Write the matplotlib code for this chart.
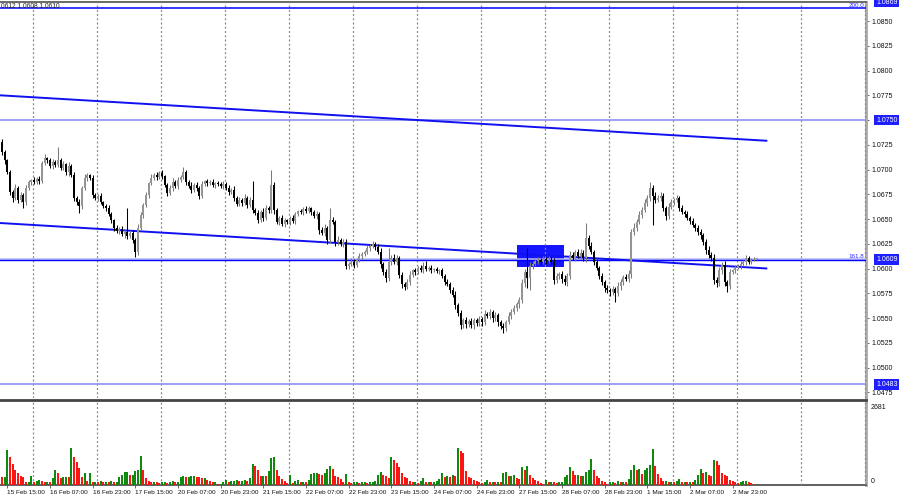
import numpy as np
import matplotlib
matplotlib.use('Agg')
import matplotlib.pyplot as plt
from matplotlib.transforms import blended_transform_factory

plt.rcParams['font.family'] = ['Liberation Sans Narrow', 'Liberation Sans', 'DejaVu Sans']

# ---------------- data (EURUSD H1) ----------------
first_open = 1.0730
close = [
    1.0728, 1.0718, 1.0710, 1.0697, 1.0677, 1.0671, 1.0681, 1.0669, 1.0674, 1.0667, 1.0681, 1.0687, 1.0689, 1.0687, 1.0690,
    1.0688, 1.0707, 1.0712, 1.0710, 1.0704, 1.0708, 1.0705, 1.0710, 1.0702, 1.0706, 1.0697, 1.0704, 1.0694, 1.0671, 1.0667,
    1.0663, 1.0681, 1.0691, 1.0694, 1.0691, 1.0674, 1.0671, 1.0673, 1.0667, 1.0663, 1.0661, 1.0655, 1.0649, 1.0641, 1.0638,
    1.0640, 1.0635, 1.0637, 1.0633, 1.0636, 1.0629, 1.0617, 1.0641, 1.0654, 1.0664, 1.0674, 1.0686, 1.0691, 1.0694, 1.0692,
    1.0696, 1.0693, 1.0684, 1.0676, 1.0681, 1.0687, 1.0683, 1.0689, 1.0692, 1.0697, 1.0687, 1.0683, 1.0679, 1.0684, 1.0681,
    1.0673, 1.0685, 1.0688, 1.0686, 1.0687, 1.0684, 1.0686, 1.0685, 1.0683, 1.0685, 1.0681, 1.0677, 1.0679, 1.0671, 1.0665,
    1.0669, 1.0666, 1.0671, 1.0664, 1.0669, 1.0659, 1.0656, 1.0649, 1.0657, 1.0651, 1.0661, 1.0659, 1.0684, 1.0659, 1.0647,
    1.0651, 1.0645, 1.0649, 1.0647, 1.0651, 1.0648, 1.0655, 1.0658, 1.0657, 1.0660, 1.0658, 1.0661, 1.0657, 1.0653, 1.0655,
    1.0639, 1.0636, 1.0641, 1.0629, 1.0649, 1.0647, 1.0627, 1.0629, 1.0625, 1.0627, 1.0603, 1.0605, 1.0607, 1.0604, 1.0609,
    1.0613, 1.0615, 1.0617, 1.0621, 1.0623, 1.0625, 1.0622, 1.0617, 1.0605, 1.0596, 1.0590, 1.0607, 1.0611, 1.0607, 1.0611,
    1.0593, 1.0584, 1.0581, 1.0586, 1.0593, 1.0598, 1.0596, 1.0601, 1.0598, 1.0603, 1.0599, 1.0601, 1.0598, 1.0599, 1.0597,
    1.0598, 1.0592, 1.0586, 1.0584, 1.0578, 1.0573, 1.0563, 1.0555, 1.0543, 1.0548, 1.0544, 1.0547, 1.0543, 1.0548, 1.0545,
    1.0549, 1.0546, 1.0554, 1.0552, 1.0556, 1.0550, 1.0553, 1.0546, 1.0542, 1.0540, 1.0546, 1.0552, 1.0556, 1.0560, 1.0564,
    1.0568, 1.0585, 1.0596, 1.0590, 1.0603, 1.0605, 1.0608, 1.0609, 1.0607, 1.0610, 1.0608, 1.0609, 1.0607, 1.0588, 1.0592,
    1.0594, 1.0589, 1.0586, 1.0592, 1.0614, 1.0611, 1.0617, 1.0613, 1.0616, 1.0611, 1.0631, 1.0623, 1.0617, 1.0607, 1.0601,
    1.0592, 1.0586, 1.0580, 1.0578, 1.0576, 1.0579, 1.0575, 1.0582, 1.0586, 1.0591, 1.0589, 1.0594, 1.0637, 1.0641, 1.0647,
    1.0654, 1.0659, 1.0666, 1.0671, 1.0681, 1.0673, 1.0669, 1.0671, 1.0673, 1.0661, 1.0653, 1.0662, 1.0667, 1.0669, 1.0671,
    1.0661, 1.0657, 1.0655, 1.0651, 1.0648, 1.0644, 1.0641, 1.0637, 1.0634, 1.0627, 1.0619, 1.0614, 1.0611, 1.0588, 1.0585,
    1.0598, 1.0604, 1.0586, 1.0582, 1.0596, 1.0598, 1.0601, 1.0603, 1.0605, 1.0607, 1.0611, 1.0607, 1.0609, 1.0610, 1.0610,
]
wick_up_pips = [
    2, 3, 2, 1, 3, 2, 4, 2, 3, 2, 3, 2, 1, 3, 2,
    3, 2, 4, 1, 2, 3, 2, 13, 2, 3, 1, 4, 2, 3, 2,
    3, 2, 4, 2, 1, 3, 2, 2, 3, 1, 2, 3, 2, 1, 3,
    2, 3, 2, 24, 2, 3, 2, 4, 3, 2, 3, 1, 4, 2, 3,
    2, 3, 1, 2, 3, 4, 2, 3, 2, 6, 3, 2, 4, 2, 3,
    2, 3, 1, 2, 2, 3, 1, 2, 2, 3, 2, 3, 2, 4, 2,
    3, 2, 4, 2, 3, 19, 2, 3, 2, 4, 3, 2, 15, 3, 2,
    2, 3, 2, 1, 2, 3, 2, 1, 2, 2, 3, 2, 1, 2, 3,
    2, 3, 4, 2, 12, 3, 2, 4, 2, 3, 3, 2, 4, 3, 2,
    3, 2, 2, 3, 2, 3, 2, 3, 4, 2, 3, 14, 3, 4, 3,
    2, 3, 2, 3, 4, 2, 3, 2, 3, 4, 5, 2, 3, 2, 3,
    2, 3, 2, 3, 2, 3, 4, 2, 3, 2, 3, 2, 3, 2, 2,
    3, 2, 4, 2, 3, 2, 3, 2, 2, 3, 2, 4, 3, 3, 2,
    3, 4, 3, 25, 4, 3, 2, 3, 2, 3, 2, 4, 3, 4, 3,
    2, 3, 4, 3, 4, 3, 2, 3, 4, 3, 15, 3, 4, 2, 3,
    2, 3, 2, 3, 2, 3, 2, 4, 3, 2, 3, 4, 3, 5, 3,
    4, 3, 4, 3, 6, 3, 4, 3, 4, 3, 2, 4, 3, 2, 3,
    2, 3, 2, 3, 2, 3, 2, 3, 3, 2, 3, 4, 3, 4, 3,
    4, 3, 4, 2, 3, 2, 3, 2, 3, 2, 3, 2, 2, 2, 1,
]
wick_dn_pips = [
    2, 3, 4, 2, 3, 4, 2, 3, 2, 6, 3, 2, 3, 2, 2,
    3, 2, 2, 3, 2, 3, 2, 2, 3, 2, 3, 4, 2, 3, 3,
    7, 3, 2, 3, 2, 3, 2, 3, 2, 2, 3, 2, 3, 3, 2,
    3, 2, 4, 3, 2, 3, 5, 3, 2, 3, 2, 3, 2, 2, 3,
    2, 3, 2, 3, 2, 3, 2, 3, 2, 2, 3, 2, 3, 2, 3,
    3, 2, 2, 3, 2, 2, 3, 2, 2, 3, 2, 3, 2, 3, 2,
    2, 3, 2, 3, 2, 3, 2, 3, 2, 3, 2, 3, 3, 4, 2,
    3, 2, 3, 2, 3, 2, 3, 2, 2, 3, 2, 2, 3, 2, 3,
    4, 2, 3, 4, 3, 2, 4, 3, 2, 3, 4, 3, 2, 3, 2,
    2, 3, 2, 2, 3, 2, 3, 2, 4, 3, 4, 3, 3, 2, 3,
    3, 4, 3, 2, 3, 2, 3, 2, 2, 3, 2, 2, 3, 2, 2,
    3, 2, 3, 2, 3, 2, 4, 3, 4, 3, 4, 3, 3, 4, 3,
    3, 4, 3, 2, 3, 4, 3, 4, 3, 5, 3, 2, 3, 2, 3,
    4, 3, 4, 10, 12, 3, 2, 3, 2, 2, 3, 2, 2, 4, 3,
    3, 4, 3, 4, 3, 2, 3, 2, 3, 3, 4, 3, 2, 3, 3,
    3, 3, 4, 3, 4, 3, 9, 3, 4, 3, 2, 3, 4, 3, 3,
    2, 3, 2, 3, 3, 29, 3, 2, 3, 3, 4, 3, 2, 3, 2,
    3, 2, 3, 2, 3, 2, 3, 3, 4, 3, 4, 3, 3, 4, 4,
    3, 4, 4, 6, 3, 2, 3, 2, 3, 2, 3, 2, 2, 1, 1,
]
volume = [
    396, 264, 270, 1155, 924, 693, 495, 396, 297, 264, 99, 105, 297, 99, 132,
    165, 132, 99, 102, 99, 231, 495, 396, 231, 264, 270, 262, 1221, 924, 759,
    561, 264, 396, 132, 396, 99, 102, 99, 132, 99, 105, 99, 132, 99, 102,
    264, 330, 429, 432, 330, 333, 462, 495, 957, 495, 231, 132, 99, 102, 99,
    66, 99, 102, 66, 99, 132, 99, 102, 264, 297, 264, 266, 297, 298, 264,
    262, 231, 233, 165, 132, 99, 102, 33, 35, 99, 165, 99, 132, 133, 165,
    132, 134, 165, 132, 231, 693, 627, 495, 297, 299, 297, 462, 891, 924, 495,
    297, 198, 132, 66, 330, 66, 132, 165, 99, 101, 99, 165, 363, 396, 398,
    363, 330, 396, 528, 627, 528, 297, 264, 198, 99, 363, 99, 66, 99, 101,
    66, 99, 102, 66, 99, 101, 132, 330, 429, 330, 297, 231, 924, 825, 726,
    594, 396, 264, 231, 132, 99, 101, 66, 132, 231, 99, 102, 99, 101, 132,
    198, 396, 264, 297, 264, 330, 297, 1221, 1122, 1056, 462, 264, 231, 165, 132,
    99, 66, 99, 165, 99, 102, 99, 101, 99, 396, 429, 297, 299, 330, 231,
    198, 594, 495, 627, 330, 231, 165, 132, 66, 33, 165, 99, 101, 99, 66,
    99, 102, 264, 330, 594, 462, 330, 332, 297, 299, 429, 495, 858, 495, 297,
    231, 132, 99, 33, 99, 101, 66, 132, 99, 101, 99, 198, 495, 660, 495,
    528, 363, 495, 561, 660, 1188, 627, 363, 231, 132, 134, 99, 101, 99, 132,
    198, 99, 101, 99, 102, 99, 165, 330, 528, 396, 429, 330, 297, 825, 792,
    660, 396, 330, 297, 165, 132, 99, 66, 99, 132, 134, 99, 66, 33, 35,
]
volume_axis_max = 2681

x_labels = ['15 Feb 15:00', '16 Feb 07:00', '16 Feb 23:00', '17 Feb 15:00', '20 Feb 07:00',
            '20 Feb 23:00', '21 Feb 15:00', '22 Feb 07:00', '22 Feb 23:00', '23 Feb 15:00',
            '24 Feb 07:00', '24 Feb 23:00', '27 Feb 15:00', '28 Feb 07:00', '28 Feb 23:00',
            '1 Mar 15:00', '2 Mar 07:00', '2 Mar 23:00']
x_label_first_bar = 3
x_label_step = 16

price_ticks = [1.0850, 1.0825, 1.0800, 1.0775, 1.0750, 1.0725, 1.0700, 1.0675, 1.0650,
               1.0625, 1.0600, 1.0575, 1.0550, 1.0525, 1.0500, 1.0475]

# horizontal levels and boxed price labels
level_fib200 = 1.0863
level_upper = 1.0750
level_fib161 = 1.0609
level_lower = 1.0483
boxed_prices = ['1.0869', '1.0750', '1.0609', '1.0483']

# channel trend lines (bar index, price)
chan_bars = [0, 288]
chan_upper = [1.0775, 1.0729]
chan_lower = [1.0646, 1.0600]

# blue zone rectangle
zone_bars = [194, 211.7]
zone_prices = [1.0602, 1.0624]

header_text = '0612 1.0608 1.0610'

# ---------------- figure ----------------
W, H = 900, 500
fig = plt.figure(figsize=(9, 5), dpi=100)
fig.patch.set_facecolor('white')

ax = fig.add_axes([0, 1 - 398 / H, 866 / W, 396 / H])
axv = fig.add_axes([0, 15 / H, 866 / W, 85 / H], sharex=ax)

n = len(close)
x = np.arange(n)
c = np.array(close)
o = np.concatenate([[first_open], c[:-1]])
hi = np.maximum(o, c) + np.array(wick_up_pips) * 1e-4
lo = np.minimum(o, c) - np.array(wick_dn_pips) * 1e-4
bull = c >= o

bull_col = '#959595'
bear_col = '#000000'
cols = np.where(bull, bull_col, bear_col)
wick_cols = np.where(bull, '#7a7a7a', '#000000')

# grid (vertical dotted)
grid_pos = 12.64 + 24 * np.arange(14)
for a in (ax, axv):
    for g in grid_pos:
        a.axvline(g, color='#8a8a8a', lw=0.9, ls=(0, (1.6, 1.8)), zorder=3)

# zone
ax.add_patch(plt.Rectangle((zone_bars[0], zone_prices[0]), zone_bars[1] - zone_bars[0],
                           zone_prices[1] - zone_prices[0], facecolor='#1515ff',
                           edgecolor='none', zorder=2))

# horizontal levels
ax.axhline(level_fib200, color='#0000ff', lw=1.1, zorder=4)
ax.axhline(level_upper, color='#8f8ff5', lw=1.2, zorder=4)
ax.axhline(level_fib161 + 0.00008, color='#b8b8f6', lw=1.8, zorder=4)
ax.axhline(level_fib161, color='#0000ff', lw=1.0, zorder=4)
ax.axhline(level_lower, color='#8f8ff5', lw=1.2, zorder=4)

# channel lines
ax.plot(chan_bars, chan_upper, color='#1010f0', lw=1.4, zorder=4, solid_capstyle='butt')
ax.plot(chan_bars, chan_lower, color='#1010f0', lw=1.4, zorder=4, solid_capstyle='butt')

# candles
ax.vlines(x, lo, hi, colors=wick_cols, lw=0.75, zorder=5)
body_h = np.maximum(np.abs(c - o), 0.00004)
ax.bar(x, body_h, bottom=np.minimum(o, c), width=0.82, color=cols, edgecolor=cols,
       linewidth=0, zorder=6)

ax.set_xlim(0.26, 325.0)
ax.set_ylim(1.04692, 1.08692)

# price axis styling
ax.yaxis.tick_right()
ax.set_yticks(price_ticks)
ax.set_yticklabels(['' if abs(p - level_upper) < 1e-6 else f'{p:.4f}' for p in price_ticks])
ax.tick_params(axis='y', direction='out', length=2.5, width=0.6, color='#555555',
               labelsize=5, pad=1.5, labelcolor='#111111')
ax.tick_params(axis='x', bottom=False, labelbottom=False)
for s in ('left', 'bottom'):
    ax.spines[s].set_visible(False)
ax.spines['top'].set_color('#505050')
ax.spines['top'].set_linewidth(1.2)
ax.spines['right'].set_color('#a8a8a8')
ax.spines['right'].set_linewidth(2.0)

# boxed price labels
tr = blended_transform_factory(ax.transAxes, ax.transData)
for s in boxed_prices:
    ax.text(1 + 10 / 866, float(s), s, transform=tr, ha='left', va='center', fontsize=5,
            color='white', zorder=10, clip_on=False,
            bbox=dict(boxstyle='square,pad=0.25', facecolor='#1e1eff', edgecolor='none'))

# fib level texts
ax.text(1 - 2 / 866, level_fib200 + 0.00003, '200.0', transform=tr, ha='right', va='bottom',
        fontsize=4.5, color='#2a2aff', zorder=10)
ax.text(1 - 2 / 866, level_fib161 + 0.00008, '161.8', transform=tr, ha='right', va='bottom',
        fontsize=4.5, color='#2a2aff', zorder=10)

fig.text(0.001, 1 - 6 / H, header_text, ha='left', va='center', fontsize=4.8, color='#222222')

# volumes
v = np.array(volume)
up = np.concatenate([[True], v[1:] > v[:-1]])
vcols = np.where(up, '#0f8a0f', '#ff1414')
axv.bar(x, v, width=0.75, color=vcols, linewidth=0, zorder=5)
axv.set_ylim(0, volume_axis_max * 1.045)
axv.set_yticks([])
axv.spines['left'].set_visible(False)
axv.spines['top'].set_color('#444444')
axv.spines['top'].set_linewidth(2.0)
axv.spines['bottom'].set_color('#444444')
axv.spines['bottom'].set_linewidth(1.2)
axv.spines['right'].set_color('#a8a8a8')
axv.spines['right'].set_linewidth(2.0)
trv = blended_transform_factory(axv.transAxes, axv.transData)
axv.text(1 + 5 / 866, volume_axis_max, str(volume_axis_max), transform=trv, ha='left',
         va='top', fontsize=5, color='#111111', clip_on=False)
axv.text(1 + 5 / 866, 0, '0', transform=trv, ha='left', va='bottom', fontsize=5,
         color='#111111', clip_on=False)

tick_bars = x_label_first_bar + x_label_step * np.arange(len(x_labels))
axv.set_xticks(tick_bars)
axv.set_xticklabels(x_labels)
axv.tick_params(axis='x', direction='out', length=2, width=0.6, color='#555555',
                labelsize=4.6, pad=1.5, labelcolor='#111111')
for lbl in axv.get_xticklabels():
    lbl.set_ha('left')

fig.savefig('out.png', dpi=100, facecolor='white')
